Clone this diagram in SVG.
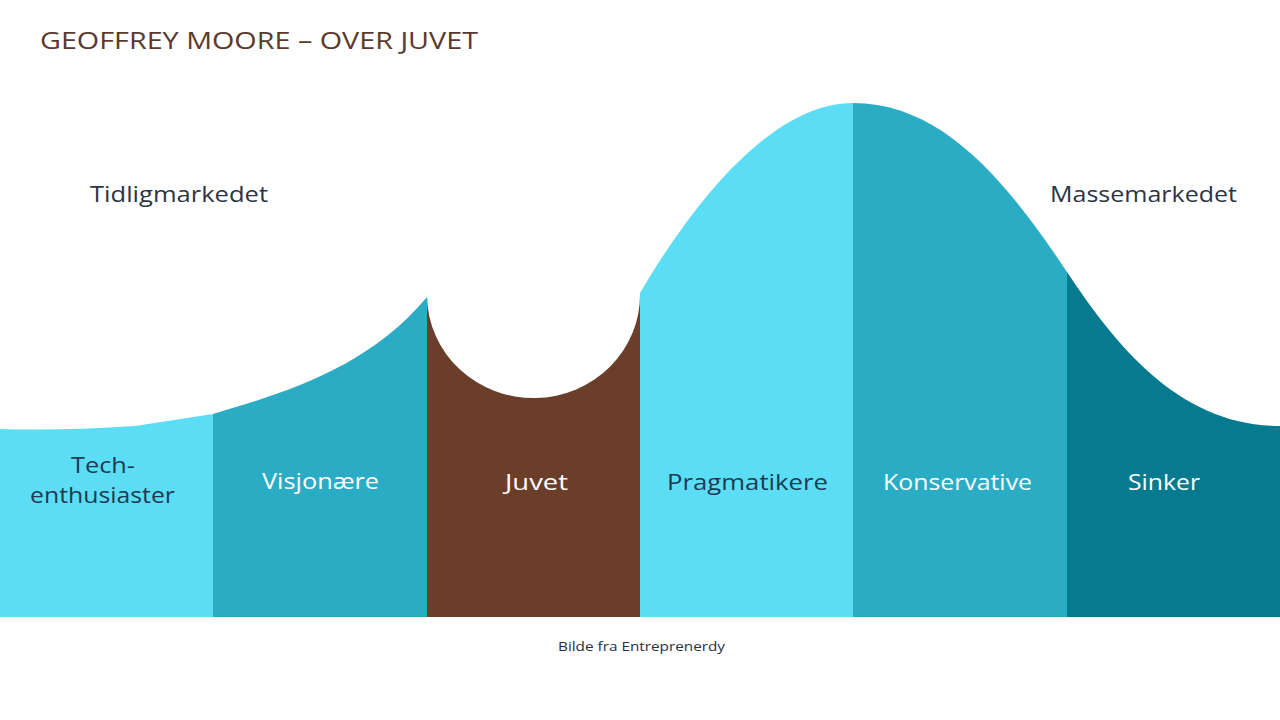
<svg xmlns="http://www.w3.org/2000/svg" width="1280" height="720" viewBox="0 0 1280 720">
<style>
.t{font-family:"Open Sans","Noto Sans","Liberation Sans",sans-serif;}
.lbl{font-size:21px;text-anchor:start;}
.dark{fill:#1E3A52;}
.white{fill:#FFFFFF;}
.mk{font-size:21px;fill:#2A3545;}
</style>
<rect width="1280" height="720" fill="#FFFFFF"/>
<text class="t" x="40" y="49" font-size="23" fill="#5A3A2C" textLength="438" lengthAdjust="spacingAndGlyphs">GEOFFREY MOORE – OVER JUVET</text>

<g id="tech">
<path d="M0,429 Q60,431 135,426 L213,414 L213,617 L0,617 Z" fill="#5BDEF5"/>
<text class="t lbl dark" x="71" y="473" textLength="64" lengthAdjust="spacingAndGlyphs">Tech-</text>
<text class="t lbl dark" x="30" y="503" textLength="145" lengthAdjust="spacingAndGlyphs">enthusiaster</text>
</g>
<g id="visjonaere">
<path d="M213,414 C283,393 367,369 427,297 L427,617 L213,617 Z" fill="#2AACC5"/>
<text class="t lbl white" x="262" y="489" textLength="117" lengthAdjust="spacingAndGlyphs">Visjonære</text>
</g>
<g id="juvet">
<path d="M427,297 A106.5,103 0 0 0 640,293 L640,617 L427,617 Z" fill="#6B3E2A"/>
<text class="t lbl white" x="505" y="490" textLength="63" lengthAdjust="spacingAndGlyphs">Juvet</text>
</g>
<g id="pragmatikere">
<path d="M640,293 C680,225 763,103 853,103 L853,617 L640,617 Z" fill="#5BDEF5"/>
<text class="t lbl dark" x="667" y="490" textLength="161" lengthAdjust="spacingAndGlyphs">Pragmatikere</text>
</g>
<g id="konservative">
<path d="M853,103 C943,103 1007,182 1067,272 L1067,617 L853,617 Z" fill="#2AACC5"/>
<text class="t lbl white" x="883" y="490" textLength="149" lengthAdjust="spacingAndGlyphs">Konservative</text>
</g>
<g id="sinker">
<path d="M1067,272 C1117,347 1180,426 1280,426 L1280,617 L1067,617 Z" fill="#067A8E"/>
<text class="t lbl white" x="1128" y="490" textLength="72" lengthAdjust="spacingAndGlyphs">Sinker</text>
</g>

<g id="tidligmarkedet">
<text class="t mk" x="90" y="202" textLength="178" lengthAdjust="spacingAndGlyphs">Tidligmarkedet</text>
</g>
<g id="massemarkedet">
<text class="t mk" x="1050" y="202" textLength="187" lengthAdjust="spacingAndGlyphs">Massemarkedet</text>
</g>
<g id="connectors"></g>
<text class="t" x="558" y="651" font-size="13" fill="#2A3040" textLength="167" lengthAdjust="spacingAndGlyphs">Bilde fra Entreprenerdy</text>
</svg>
